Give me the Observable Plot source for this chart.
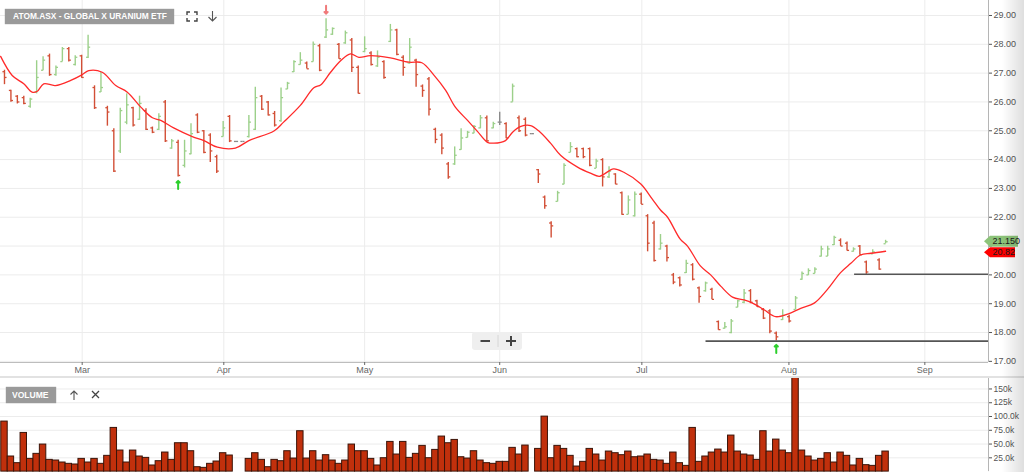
<!DOCTYPE html>
<html><head><meta charset="utf-8">
<script src="https://cdn.jsdelivr.net/npm/d3@7"></script>
<script src="https://cdn.jsdelivr.net/npm/@observablehq/plot@0.6"></script>
<style>
body{margin:0;background:#fff;font-family:"Liberation Sans",Arial,sans-serif;}
#wrap{position:relative;width:1024px;height:472px;overflow:hidden;background:#fff;}
#price,#vol{position:absolute;left:0;}
#price{top:0;}
#vol{top:376px;border-top:2px solid #e2e2e2;box-sizing:border-box;}
#vol svg,#price svg{display:block;}
.box{position:absolute;background:#9a9a9a;color:#fff;font-weight:bold;white-space:nowrap;box-shadow:0 0 1px #888;}
.box span{display:inline-block;transform-origin:left center;}
.ico{position:absolute;}
#zoomctl{position:absolute;left:472px;top:332px;width:50px;height:18px;background:#efefef;border-radius:3px;}
#shade{position:absolute;left:1002px;top:0;width:22px;height:472px;background:linear-gradient(to right,rgba(0,0,0,0),rgba(0,0,0,0.13));pointer-events:none;}
</style></head><body>
<div id="wrap">
  <div id="price"></div>
  <div id="vol"></div>
  <div class="box" style="left:5px;top:9px;width:169px;height:15px;line-height:15px;font-size:9px;"><span style="margin-left:8px;transform:scaleX(0.93);">ATOM.ASX - GLOBAL X URANIUM ETF</span></div>
  <svg class="ico" style="left:186px;top:11px" width="12" height="11" viewBox="0 0 12 11"><path d="M1,4V1H4 M8,1H11V4 M11,7V10H8 M4,10H1V7" fill="none" stroke="#444" stroke-width="1.4"/></svg>
  <svg class="ico" style="left:207px;top:10px" width="11" height="12" viewBox="0 0 11 12"><path d="M5.5,1V11 M1.5,7L5.5,11L9.5,7" fill="none" stroke="#555" stroke-width="1.1"/></svg>
  <div class="box" style="left:6px;top:387px;width:50px;height:16px;line-height:16px;font-size:9px;"><span style="margin-left:6px;transform:scaleX(0.95);">VOLUME</span></div>
  <svg class="ico" style="left:69px;top:390px" width="10" height="11" viewBox="0 0 10 11"><path d="M5,10V1 M1.5,4.5L5,1L8.5,4.5" fill="none" stroke="#555" stroke-width="1.1"/></svg>
  <svg class="ico" style="left:91px;top:390px" width="9" height="9" viewBox="0 0 9 9"><path d="M1,1L8,8 M8,1L1,8" fill="none" stroke="#444" stroke-width="1.3"/></svg>
  <div id="zoomctl">
    <svg width="50" height="18" viewBox="0 0 50 18"><path d="M8.5,9H18" stroke="#444" stroke-width="2"/><path d="M26,3V15" stroke="#d6d6d6" stroke-width="1"/><path d="M34,9H44 M39,4V14" stroke="#444" stroke-width="2"/></svg>
  </div>
  <div id="shade"></div>
</div>
<script>
// ---- data, index = trading-day slot ----
const opens  = [27.05,26.4,26.2,26.15,25.85,26.35,27.1,27.6,26.95,27.4,27.85,27.3,27.6,27.55,26.5,26.35,25.8,25.0,24.3,25.3,25.8,25.4,25.7,25.1,25.05,26.0,24.4,24.6,23.8,24.2,25.55,25.0,24.85,24.1,24.8,25.5,24.63,24.63,24.8,25.05,26.2,26.0,25.6,25.35,26.45,27.05,27.3,27.35,27.4,27.95,28.25,28.35,28.0,28.05,28.15,27.2,27.75,27.7,27.25,27.4,28.1,28.5,27.55,27.35,27.45,26.55,26.8,25.05,24.85,23.85,23.85,24.35,24.77,24.92,25.1,25.45,25.1,25.3,25.25,26.0,25.45,25.4,24.9,23.65,22.7,21.8,22.55,23.15,24.25,24.38,24.38,24.38,23.7,24.0,23.4,23.5,22.85,22.1,22.05,22.8,22.05,21.8,20.9,21.0,20.0,19.9,20.08,20.35,19.55,19.45,19.5,18.38,18.15,18.0,18.88,19.05,19.45,19.1,18.8,18.75,17.98,18.45,18.55,18.8,19.85,20.0,20.05,20.65,20.65,21.05,21.2,21.1,20.82,21.0,20.45,20.73,20.52,21.08];
const highs  = [27.1,26.41,26.22,26.2,26.13,27.43,27.57,27.66,27.25,27.89,27.89,27.6,27.62,28.31,26.56,27.02,25.85,25.07,25.78,26.28,25.82,26.2,25.76,25.13,25.59,26.05,24.7,24.67,24.67,25.24,25.59,25.01,24.9,24.15,25.32,25.53,24.63,24.63,25.53,26.51,26.22,26.02,25.67,26.48,26.68,27.43,27.71,27.39,28.08,28.0,28.89,28.57,28.03,28.46,28.2,27.25,28.26,27.74,27.77,27.43,28.69,28.52,27.6,28.2,27.48,26.59,26.85,25.09,24.9,23.9,24.44,25.07,24.98,25.18,25.53,25.51,25.3,25.64,25.28,26.62,25.51,25.45,24.9,23.66,22.74,21.84,22.9,23.86,24.59,24.4,24.4,24.4,24.01,24.03,23.75,23.51,22.88,22.74,22.88,22.84,22.09,21.86,21.4,21.03,20.05,19.93,20.51,20.39,19.58,19.75,19.54,18.4,18.35,18.45,19.12,19.49,19.49,19.12,18.83,18.79,18.02,18.79,18.6,19.25,20.1,20.21,20.25,20.99,20.99,21.34,21.25,21.14,20.94,21.02,20.48,20.87,20.56,21.2];
const lows   = [26.6,25.99,25.93,25.9,25.78,26.28,27.08,26.89,26.89,27.39,27.39,27.25,26.82,27.51,25.74,26.33,25.16,23.55,24.21,25.21,25.13,25.36,25.01,24.9,25.01,24.59,24.36,23.4,23.71,24.17,24.9,24.2,23.9,23.52,24.78,24.59,24.63,24.63,24.75,25.01,25.7,25.51,25.13,25.3,26.43,27.02,27.28,27.14,27.39,27.05,28.2,28.31,27.48,28.0,27.02,26.28,27.71,27.25,27.2,26.79,28.06,27.6,26.89,27.31,26.51,26.16,25.51,24.55,24.17,23.32,23.8,24.32,24.75,24.9,25.07,24.61,25.07,25.18,24.72,25.99,24.94,24.79,24.9,23.17,22.28,21.28,22.53,23.13,24.24,24.06,24.03,23.75,23.69,23.05,23.34,23.13,22.07,22.09,22.01,22.44,20.8,20.45,20.86,20.45,19.66,19.58,20.05,19.79,19.02,19.4,19.14,18.08,18.12,17.96,18.86,19.0,19.0,18.88,18.45,17.96,17.71,18.42,18.33,18.79,19.81,19.98,20.04,20.62,20.64,21.02,20.99,20.83,20.79,20.68,20.02,20.73,20.16,21.08];
const closes = [26.85,26.05,26.0,25.95,26.1,26.85,27.45,26.95,27.2,27.85,27.45,27.55,26.85,27.9,25.8,26.5,25.65,23.6,25.7,25.9,25.2,25.95,25.05,24.95,25.5,24.65,24.65,23.45,24.3,24.9,24.95,24.25,24.3,23.6,25.1,24.65,24.63,24.63,25.3,26.15,25.75,25.55,25.2,26.15,26.65,27.4,27.45,27.15,28.0,27.1,28.5,28.55,27.5,28.4,27.2,26.3,27.85,27.3,27.55,26.85,28.5,27.65,27.2,27.9,26.95,26.4,25.75,24.7,24.4,23.4,24.15,24.75,24.95,25.15,25.45,24.65,25.25,25.3,24.75,26.55,25.0,24.85,24.9,23.5,22.4,21.7,22.85,23.8,24.45,24.1,24.1,23.8,23.95,23.4,23.6,23.15,22.1,22.6,22.8,22.45,21.1,20.5,21.1,20.6,19.75,19.65,20.4,19.85,19.25,19.72,19.15,18.1,18.2,18.4,19.1,19.37,19.05,18.9,18.5,18.05,17.85,18.6,18.4,19.2,20.05,20.15,20.2,20.9,20.9,21.3,21.0,20.85,20.9,20.7,20.1,20.8,20.2,21.15];
const volumesK = [90.8,27.4,15.3,70.2,23.1,32.2,49.1,21.3,20.1,16.5,14.1,12.9,23.1,16.5,23.1,14.1,28.6,79.3,38.2,16.5,38.2,27.4,24.9,11.1,18.9,34.6,21.3,51.5,51.5,37.0,8.0,6.8,14.1,18.3,33.4,29.2,null,null,23.1,33.4,21.3,8.0,21.3,18.9,37.0,23.7,73.3,23.7,37.0,20.1,29.8,20.1,14.1,20.1,49.1,37.0,37.0,23.1,11.1,24.3,53.9,31.0,53.9,24.9,32.2,46.7,24.3,39.4,63.6,51.5,57.5,26.1,23.7,37.0,20.1,15.3,14.1,17.7,17.7,43.1,31.0,47.3,null,41.2,99.8,24.3,46.7,41.2,28.6,9.2,17.7,41.2,31.0,20.1,36.4,33.4,29.8,36.4,26.1,27.4,31.0,21.3,20.1,14.1,34.6,15.3,10.4,79.3,17.7,27.4,34.6,40.0,34.6,65.4,36.4,31.0,29.2,21.3,73.3,36.4,58.1,38.2,33.4,169.9,38.2,27.4,20.1,23.1,33.4,16.5,34.6,28.6,11.1,23.1,11.7,10.4,28.6,36.4];

// moving-average line
const maIdx = [-0.6,1.2,3.0,4.3,5.1,6.1,7.9,10.3,12.1,13.1,15.2,17.3,19.1,21.2,23.0,24.3,26.3,29.2,31.0,33.1,35.9,38.0,41.9,43.4,46.0,48.1,49.2,50.7,52.3,53.8,55.1,56.9,60.0,62.9,64.9,66.8,68.6,70.1,72.0,73.5,75.1,76.1,77.9,79.0,80.3,81.8,83.1,84.9,86.5,89.1,91.1,92.5,94.7,96.3,98.9,100.7,102.0,103.1,105.1,106.2,108.2,109.8,111.4,113.2,115.0,116.3,118.1,119.9,121.9,123.8,125.9,127.9,130.0,131.6,133.1,134.7,137.0];
const maVal = [27.58,26.92,26.63,26.34,26.37,26.63,26.57,26.75,26.95,27.09,27.03,26.57,26.34,25.82,25.45,25.36,25.1,24.8,24.66,24.43,24.4,24.66,24.99,25.3,25.88,26.49,26.6,27.03,27.44,27.67,27.55,27.61,27.53,27.38,27.36,26.92,26.4,25.82,25.36,24.99,24.6,24.57,24.66,24.95,25.15,25.18,24.99,24.57,24.14,23.74,23.53,23.42,23.68,23.56,23.16,22.64,22.25,22.0,21.23,21.0,20.31,20.0,19.6,19.23,19.13,19.02,18.79,18.55,18.65,18.84,19.02,19.48,20.08,20.4,20.69,20.75,20.82];

const monthLabels = ["Mar","Apr","May","Jun","Jul","Aug","Sep"];
const monthIdx    = [12.08,34.1,56.0,77.0,99.1,121.97,143.1];
const priceTicks  = [17,18,19,20,21,22,23,24,25,26,27,28,29];
const hiddenPriceLabels = [21];           // covered by the last-price tags
const volTicks    = [25,50,75,100,125,150];
const volTickLabels = ["25.0k","50.0k","75.0k","100.0k","125k","150k"];
const supportLevels = [17.7, 20.02];
const supportFrom   = [109.0, 132.1];
const upSignals   = [27, 120];   // green arrows under lows
const downSignals = [50];        // red arrow over high
const lastPrice = 21.15, lastPriceLabel = "21.150";
const maLast = 20.82, maLastLabel = "20.82";

// ---- build ----
const bars = opens.map((o, i) => ({i, o, h: highs[i], l: lows[i], c: closes[i], v: volumesK[i]}));
const ma = maIdx.map((x, k) => ({x, y: maVal[k]}));
const supports = supportLevels.map((y, k) => ({y, x1: supportFrom[k]}));
const X_DOMAIN = [-0.62, 153.0];
const GREEN = "#9cd08a", RED = "#d24f36", GREY = "#8a8a8a";
const col = d => d.c > d.o ? GREEN : d.c < d.o ? RED : GREY;
const ns = "http://www.w3.org/2000/svg";

function tags(index, scales, values, dimensions) {
  const g = document.createElementNS(ns, "g");
  const xr = dimensions.width - dimensions.marginRight;
  const yG = scales.y(lastPrice);
  const yR = Math.max(scales.y(maLast), yG + 11);
  const items = [[yG, lastPriceLabel, "#8cc379", 34, 5.5], [yR, maLastLabel, "#ff0000", 31, 5]];
  for (const [y, label, fill, w, hh] of items) {
    const p = document.createElementNS(ns, "path");
    const x0 = xr - 4;
    p.setAttribute("d", `M${x0},${y} L${x0 + 6},${y - hh} L${x0 + w},${y - hh} L${x0 + w},${y + hh} L${x0 + 6},${y + hh} Z`);
    p.setAttribute("fill", fill);
    g.appendChild(p);
    const t = document.createElementNS(ns, "text");
    t.setAttribute("x", x0 + 8.5);
    t.setAttribute("y", y + 3.2);
    t.setAttribute("font-size", "9");
    t.setAttribute("text-anchor", "start");
    t.setAttribute("fill", "#1a1a1a");
    t.setAttribute("font-family", "Liberation Sans, Arial, sans-serif");
    t.textContent = label;
    g.appendChild(t);
  }
  return g;
}

const pricePlot = Plot.plot({
  width: 1024, height: 376,
  marginLeft: 0, marginRight: 36, marginTop: 0, marginBottom: 14,
  style: {fontFamily: "Liberation Sans, Arial, sans-serif", background: "transparent"},
  x: {domain: X_DOMAIN, axis: null, label: null},
  y: {domain: [16.96, 29.52], axis: null, label: null},
  marks: [
    Plot.ruleY(priceTicks, {stroke: "#ececec"}),
    Plot.ruleX(monthIdx, {stroke: "#ececec"}),
    Plot.ruleX(bars, {x: "i", y1: "l", y2: "h", stroke: col, strokeWidth: 1.4}),
    Plot.link(bars, {x1: d => d.i - 0.32, x2: "i", y1: "o", y2: "o", stroke: col, strokeWidth: 1.3}),
    Plot.link(bars, {x1: "i", x2: d => d.i + 0.32, y1: "c", y2: "c", stroke: col, strokeWidth: 1.3}),
    Plot.line(ma, {x: "x", y: "y", stroke: "#ff2a2a", strokeWidth: 1.3, curve: "catmull-rom"}),
    Plot.link(supports, {x1: "x1", x2: () => X_DOMAIN[1], y1: "y", y2: "y", stroke: "#555", strokeWidth: 1.6}),
    Plot.vector(upSignals.map(i => bars[i]), {x: "i", y: "l", length: 8, rotate: 0, anchor: "end", dy: 4, shape: "arrow", stroke: "#2ccf2c", strokeWidth: 2}),
    Plot.vector(downSignals.map(i => bars[i]), {x: "i", y: "h", length: 8, rotate: 180, anchor: "end", dy: -5, shape: "arrow", stroke: "#f07a7a", strokeWidth: 2}),
    Plot.ruleY([16.96], {stroke: "#bdbdbd"}),
    Plot.ruleX([X_DOMAIN[1]], {stroke: "#b5b5b5"}),
    Plot.axisY(priceTicks, {anchor: "right", label: null, tickFormat: d => hiddenPriceLabels.includes(d) ? "" : d.toFixed(2), tickSize: 3, tickPadding: 2, fontSize: 9, color: "#555"}),
    Plot.axisX(monthIdx, {anchor: "bottom", label: null, tickFormat: d => monthLabels[monthIdx.indexOf(d)], tickSize: 3, tickPadding: 1, fontSize: 9, color: "#666"}),
    tags
  ]
});
document.getElementById("price").appendChild(pricePlot);

const volPlot = Plot.plot({
  width: 1024, height: 94,
  marginLeft: 0, marginRight: 36, marginTop: 0, marginBottom: 0.9,
  style: {fontFamily: "Liberation Sans, Arial, sans-serif", background: "transparent"},
  x: {domain: X_DOMAIN, axis: null, label: null},
  y: {domain: [0, 169], axis: null, label: null},
  marks: [
    Plot.ruleY(volTicks, {stroke: "#ececec"}),
    Plot.rectY(bars.filter(d => d.v != null), {x1: d => d.i - 0.5, x2: d => d.i + 0.5, y1: 0, y2: "v", fill: "#c1300c", stroke: "#3a1409", strokeWidth: 1}),
    Plot.ruleX([X_DOMAIN[1]], {stroke: "#b5b5b5"}),
    Plot.axisY(volTicks, {anchor: "right", label: null, tickFormat: d => volTickLabels[volTicks.indexOf(d)], tickSize: 3, tickPadding: 2, fontSize: 8.5, color: "#555"})
  ]
});
document.getElementById("vol").appendChild(volPlot);
</script>
</body></html>
